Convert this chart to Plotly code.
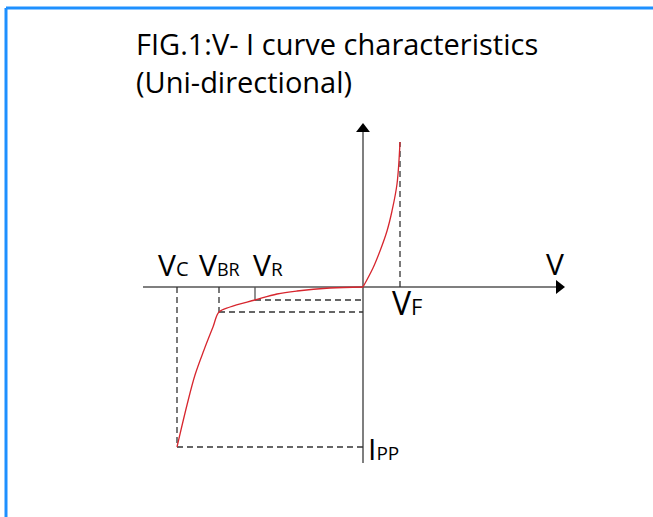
import plotly.graph_objects as go

# schematic V-I characteristic, arbitrary units (origin = 0,0)
fwd_v = [0, 10, 17, 24, 29, 34, 37]
fwd_i = [0, 19, 36, 56, 76, 103, 145]

rev_v = [0, -33, -66, -86, -108, -133, -144, -150, -159, -168, -176, -186]
rev_i = [0, -1, -4, -7, -13, -20, -25, -40, -63, -88, -118, -160]

V_C = -186
V_BR = -144
V_R = -108
V_F = 37
I_PP = -160
I_BR = -25
I_R = -13
I_F = 145

x_axis = [-220, 196]
y_axis = [-176, 158]

title_lines = ["FIG.1:V- I curve characteristics", "(Uni-directional)"]

FONT = "Open Sans"
RED = "#d7262e"
AXIS = "#555555"
DASH = "#333333"


def big_small(big, small, size):
    return big + "<span style='font-size:%dpx'>%s</span>" % (size, small)


fig = go.Figure()

# axes with arrow heads
fig.add_trace(go.Scatter(x=x_axis, y=[0, 0], mode="lines",
                         line=dict(color=AXIS, width=1.5), hoverinfo="skip"))
fig.add_trace(go.Scatter(x=[0, 0], y=y_axis, mode="lines",
                         line=dict(color=AXIS, width=1.5), hoverinfo="skip"))
fig.add_trace(go.Scatter(x=[x_axis[1]], y=[0], mode="markers",
                         marker=dict(symbol="triangle-right", size=12, color="black"),
                         hoverinfo="skip"))
fig.add_trace(go.Scatter(x=[0], y=[y_axis[1]], mode="markers",
                         marker=dict(symbol="triangle-up", size=12, color="black"),
                         hoverinfo="skip"))

# dashed guides
dash = dict(color=DASH, width=1.3, dash="6px,4px")
guides = [
    ([V_C, V_C], [0, I_PP]),
    ([V_C, 0], [I_PP, I_PP]),
    ([V_BR, V_BR], [0, I_BR]),
    ([V_BR, 0], [I_BR, I_BR]),
    ([V_R, 0], [I_R, I_R]),
    ([V_F, V_F], [0, I_F]),
]
for gx, gy in guides:
    fig.add_trace(go.Scatter(x=gx, y=gy, mode="lines", line=dash, hoverinfo="skip"))

# V_R tick is solid
fig.add_trace(go.Scatter(x=[V_R, V_R], y=[0, I_R], mode="lines",
                         line=dict(color=AXIS, width=1.3), hoverinfo="skip"))

# the curve
fig.add_trace(go.Scatter(x=rev_v, y=rev_i, mode="lines", line_shape="spline",
                         line=dict(color=RED, width=1.3), hoverinfo="skip"))
fig.add_trace(go.Scatter(x=fwd_v, y=fwd_i, mode="lines", line_shape="spline",
                         line=dict(color=RED, width=1.3), hoverinfo="skip"))

labels = [
    (big_small("V", "C", 20), 30, V_C - 21, 23),
    (big_small("V", "BR", 18), 30, V_BR - 22, 23),
    (big_small("V", "R", 19), 30, V_R - 4, 23),
    ("V", 30, x_axis[1] - 15, 24),
    (big_small("V", "F", 22), 32, V_F - 10, -15),
    (big_small("I", "PP", 19), 30, 3, I_PP - 1),
]
for txt, fs, lx, ly in labels:
    fig.add_annotation(x=lx, y=ly, xref="x", yref="y", text=txt, showarrow=False,
                       xanchor="left", yanchor="middle",
                       font=dict(family=FONT, size=fs, color="black"))

fig.add_annotation(x=134 / 653, y=1 - 62 / 517, xref="paper", yref="paper",
                   text="<br>".join(title_lines), showarrow=False,
                   xanchor="left", yanchor="middle", align="left",
                   font=dict(family=FONT, size=29, color="black"))

# blue frame (top and left)
fig.add_shape(type="line", xref="paper", yref="paper", x0=6 / 653, x1=1,
              y0=1 - 8 / 517, y1=1 - 8 / 517, line=dict(color="#1e90ff", width=3))
fig.add_shape(type="line", xref="paper", yref="paper", x0=6 / 653, x1=6 / 653,
              y0=0, y1=1 - 8 / 517, line=dict(color="#1e90ff", width=3))

fig.update_layout(
    width=653, height=517,
    margin=dict(l=0, r=0, t=0, b=0, pad=0),
    paper_bgcolor="white", plot_bgcolor="white",
    showlegend=False,
    xaxis=dict(range=[-363, 290], visible=False, fixedrange=True),
    yaxis=dict(range=[-230, 287], visible=False, fixedrange=True),
)

fig.write_html("out.html", config={"displayModeBar": False},
               post_script="document.body.style.margin='0';")
